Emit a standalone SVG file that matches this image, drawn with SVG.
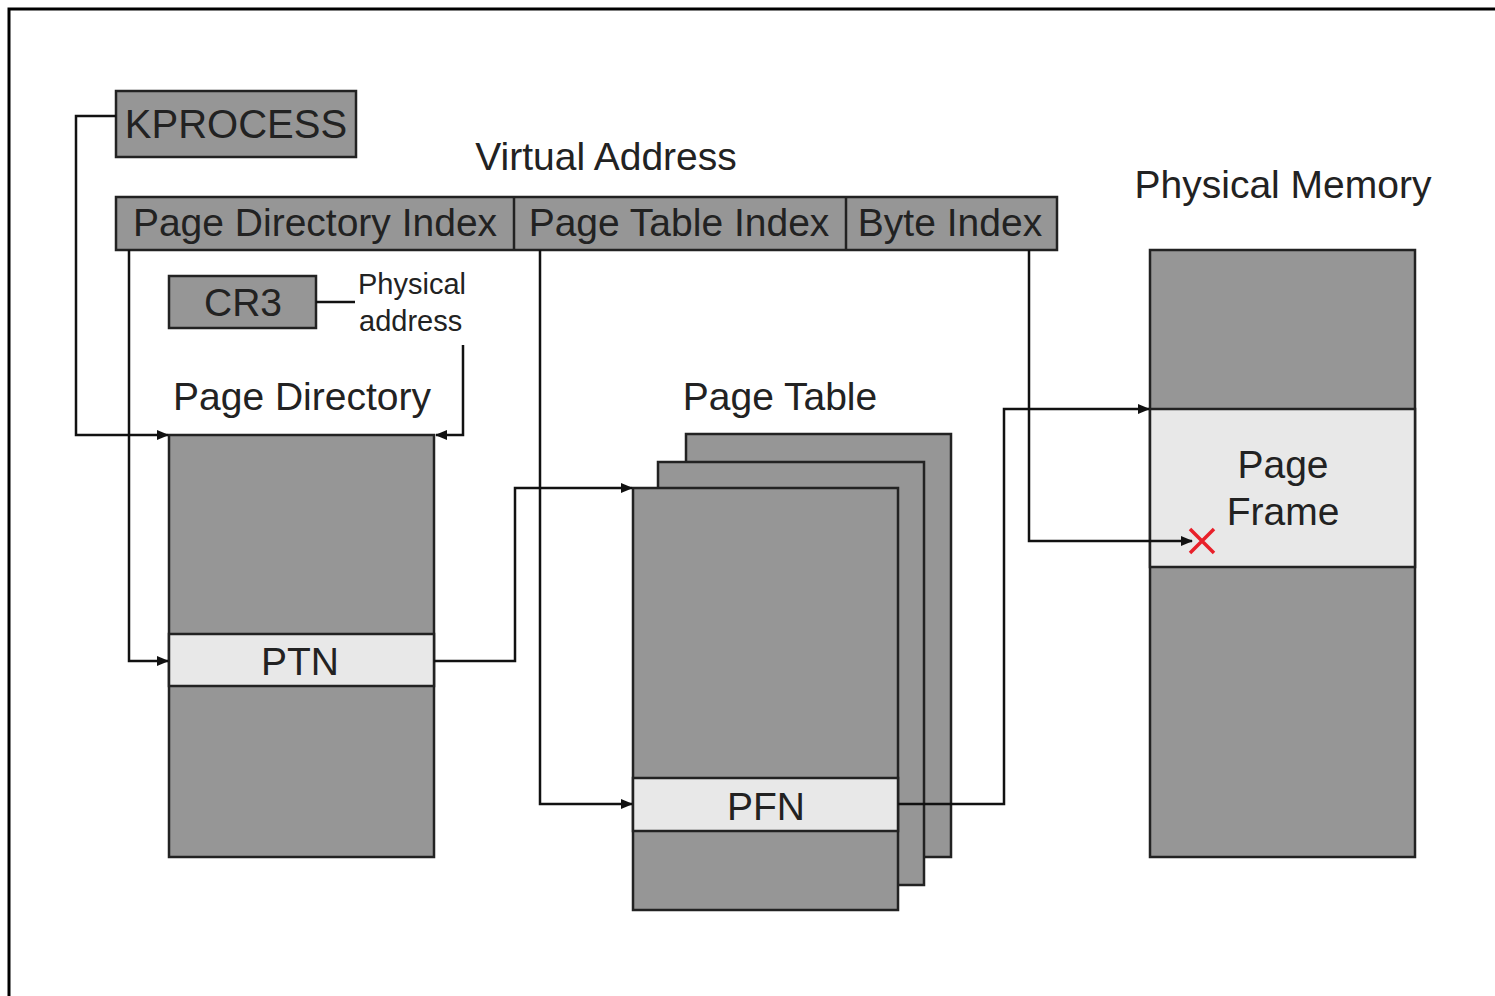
<svg xmlns="http://www.w3.org/2000/svg" width="1495" height="996" viewBox="0 0 1495 996">
<defs>
<marker id="arr" markerWidth="12" markerHeight="10" refX="11" refY="5" orient="auto" markerUnits="userSpaceOnUse">
<path d="M0,0 L12,5 L0,10 z" fill="#111"/>
</marker>
<style>
.box{fill:#969696;stroke:#222;stroke-width:2.5}
.band{fill:#e8e8e8;stroke:#222;stroke-width:2.5}
.conn{fill:none;stroke:#111;stroke-width:2.5}
text{font-family:"Liberation Sans",Arial,sans-serif;fill:#222}
.big{font-size:39px}
.lab{font-size:39px;text-anchor:middle}
.small{font-size:29px}
</style>
</defs>
<rect x="0" y="0" width="1495" height="996" fill="#fff"/>
<path d="M9,996 V9 H1495" fill="none" stroke="#000" stroke-width="3"/>

<g id="kprocess">
<rect class="box" x="116" y="91" width="240" height="66"/>
<text class="lab" x="236" y="138" style="font-size:40px">KPROCESS</text>
</g>

<g id="virtual-address-label">
<text class="lab" x="606" y="170">Virtual Address</text>
</g>

<g id="virtual-address">
<rect class="box" x="116" y="197" width="941" height="53"/>
<line x1="514" y1="197" x2="514" y2="250" stroke="#222" stroke-width="2.5"/>
<line x1="846" y1="197" x2="846" y2="250" stroke="#222" stroke-width="2.5"/>
<text class="lab" x="315" y="236">Page Directory Index</text>
<text class="lab" x="679" y="236">Page Table Index</text>
<text class="lab" x="950" y="236">Byte Index</text>
</g>

<g id="cr3">
<rect class="box" x="169" y="276" width="147" height="52"/>
<text class="lab" x="243" y="316">CR3</text>
</g>

<g id="physical-address-label">
<text class="small" x="358" y="294">Physical</text>
<text class="small" x="359" y="331">address</text>
</g>

<g id="page-directory">
<text class="lab" x="302" y="410">Page Directory</text>
<rect class="box" x="169" y="435" width="265" height="422"/>
<rect class="band" x="169" y="634" width="265" height="52"/>
<text class="lab" x="300" y="675">PTN</text>
</g>

<g id="page-table">
<text class="lab" x="780" y="410">Page Table</text>
<rect class="box" x="686" y="434" width="265" height="423"/>
<rect class="box" x="658" y="462" width="266" height="423"/>
<rect class="box" x="633" y="488" width="265" height="422"/>
<rect class="band" x="633" y="778" width="265" height="53"/>
<text class="lab" x="766" y="820">PFN</text>
</g>

<g id="physical-memory">
<text class="lab" x="1283" y="198">Physical Memory</text>
<rect class="box" x="1150" y="250" width="265" height="607"/>
<rect class="band" x="1150" y="409" width="265" height="158"/>
<text class="lab" x="1283" y="478">Page</text>
<text class="lab" x="1283" y="525">Frame</text>
</g>

<g id="connectors">
<path class="conn" d="M116,116 H76 V435 H168" marker-end="url(#arr)"/>
<path class="conn" d="M316,302 H355"/>
<path class="conn" d="M463,345 V435 H436" marker-end="url(#arr)"/>
<path class="conn" d="M129,250 V661 H168" marker-end="url(#arr)"/>
<path class="conn" d="M434,661 H515 V488 H632" marker-end="url(#arr)"/>
<path class="conn" d="M540,250 V804 H632" marker-end="url(#arr)"/>
<path class="conn" d="M898,804 H1004 V409 H1149" marker-end="url(#arr)"/>
<path class="conn" d="M1029,250 V541 H1192" marker-end="url(#arr)"/>
</g>

<g id="marker-x">
<path d="M1190,529 L1214,553 M1214,529 L1190,553" stroke="#e8202a" stroke-width="3.5" fill="none"/>
</g>
</svg>
